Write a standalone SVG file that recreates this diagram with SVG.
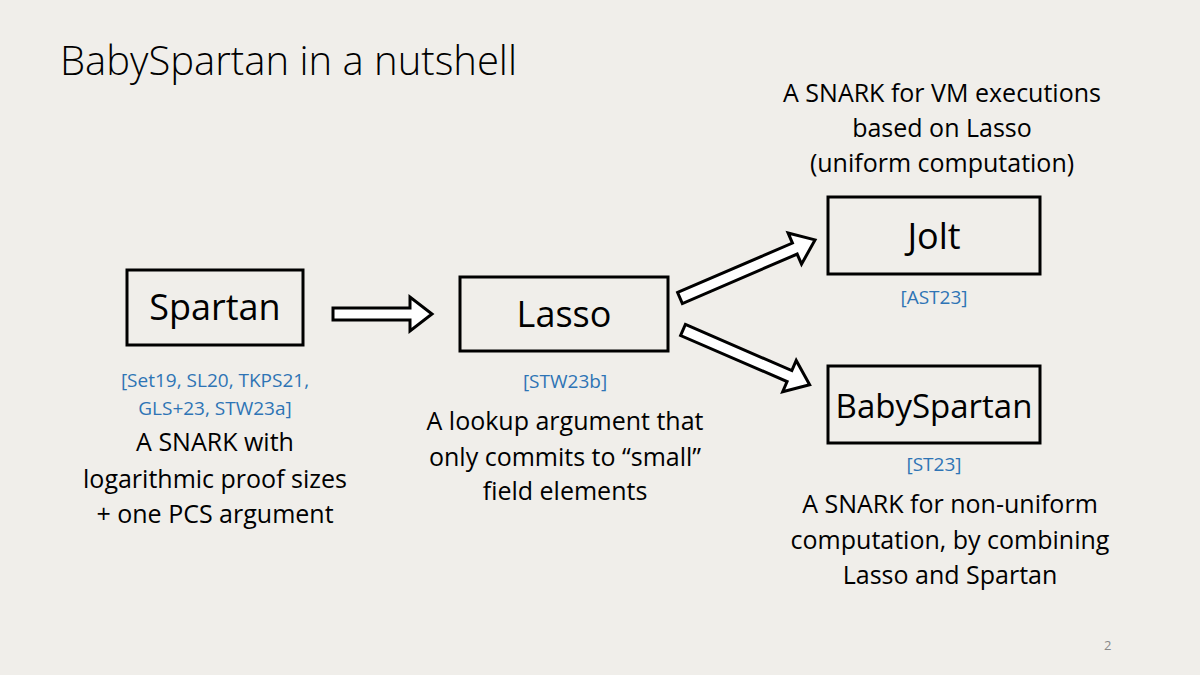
<svg xmlns="http://www.w3.org/2000/svg" width="1200" height="675" viewBox="0 0 1200 675">
<style>
text{font-family:"Open Sans","Liberation Sans",sans-serif;fill:#000}
.box{fill:none;stroke:#000;stroke-width:3}
.lbl{font-size:36px;text-anchor:middle}
.cite{font-size:19px;fill:#2e74b5;text-anchor:middle}
.desc{font-size:25px;text-anchor:middle}
.arr{fill:#fff;stroke:#000;stroke-width:3;stroke-linejoin:miter}
</style>
<rect width="1200" height="675" fill="#f0eeea"/>
<text x="60" y="75" style="font-size:40px;font-weight:300">BabySpartan in a nutshell</text>
<g id="spartan"><rect class="box" x="127" y="270" width="176" height="75"/><text class="lbl" x="215" y="320">Spartan</text>
<text class="cite" x="215" y="387">[Set19, SL20, TKPS21,</text><text class="cite" x="215" y="415">GLS+23, STW23a]</text>
<text class="desc" x="215" y="451">A SNARK with</text><text class="desc" x="215" y="488">logarithmic proof sizes</text><text class="desc" x="215" y="523">+ one PCS argument</text></g>
<g id="lasso"><rect class="box" x="460" y="277" width="208" height="74"/><text class="lbl" x="564" y="327">Lasso</text>
<text class="cite" x="565" y="388">[STW23b]</text>
<text class="desc" x="565" y="430">A lookup argument that</text><text class="desc" x="565" y="466">only commits to “small”</text><text class="desc" x="565" y="500">field elements</text></g>
<g id="jolt"><rect class="box" x="828" y="197" width="212" height="77"/><text class="lbl" x="934" y="249">Jolt</text>
<text class="desc" x="942" y="102">A SNARK for VM executions</text><text class="desc" x="942" y="137">based on Lasso</text><text class="desc" x="942" y="172">(uniform computation)</text>
<text class="cite" x="934" y="304">[AST23]</text></g>
<g id="babyspartan"><rect class="box" x="828" y="366" width="212" height="77"/><text class="lbl" x="934" y="418" style="font-size:33px">BabySpartan</text>
<text class="cite" x="934" y="471">[ST23]</text>
<text class="desc" x="950" y="513">A SNARK for non-uniform</text><text class="desc" x="950" y="549">computation, by combining</text><text class="desc" x="950" y="584">Lasso and Spartan</text></g>
<g id="connectors">
<path class="arr" transform="translate(333,314)" d="M0,-6 H77 V-17 L99,0 L77,17 V6 H0 Z"/>
<path class="arr" transform="translate(680,298) rotate(-23.3)" d="M0,-6 H125 V-17 L147,0 L125,17 V6 H0 Z"/>
<path class="arr" transform="translate(683,330) rotate(23.4)" d="M0,-6 H116 V-17 L138,0 L116,17 V6 H0 Z"/>
</g>
<text x="1104" y="650" style="font-size:13px;fill:#888">2</text>
</svg>
